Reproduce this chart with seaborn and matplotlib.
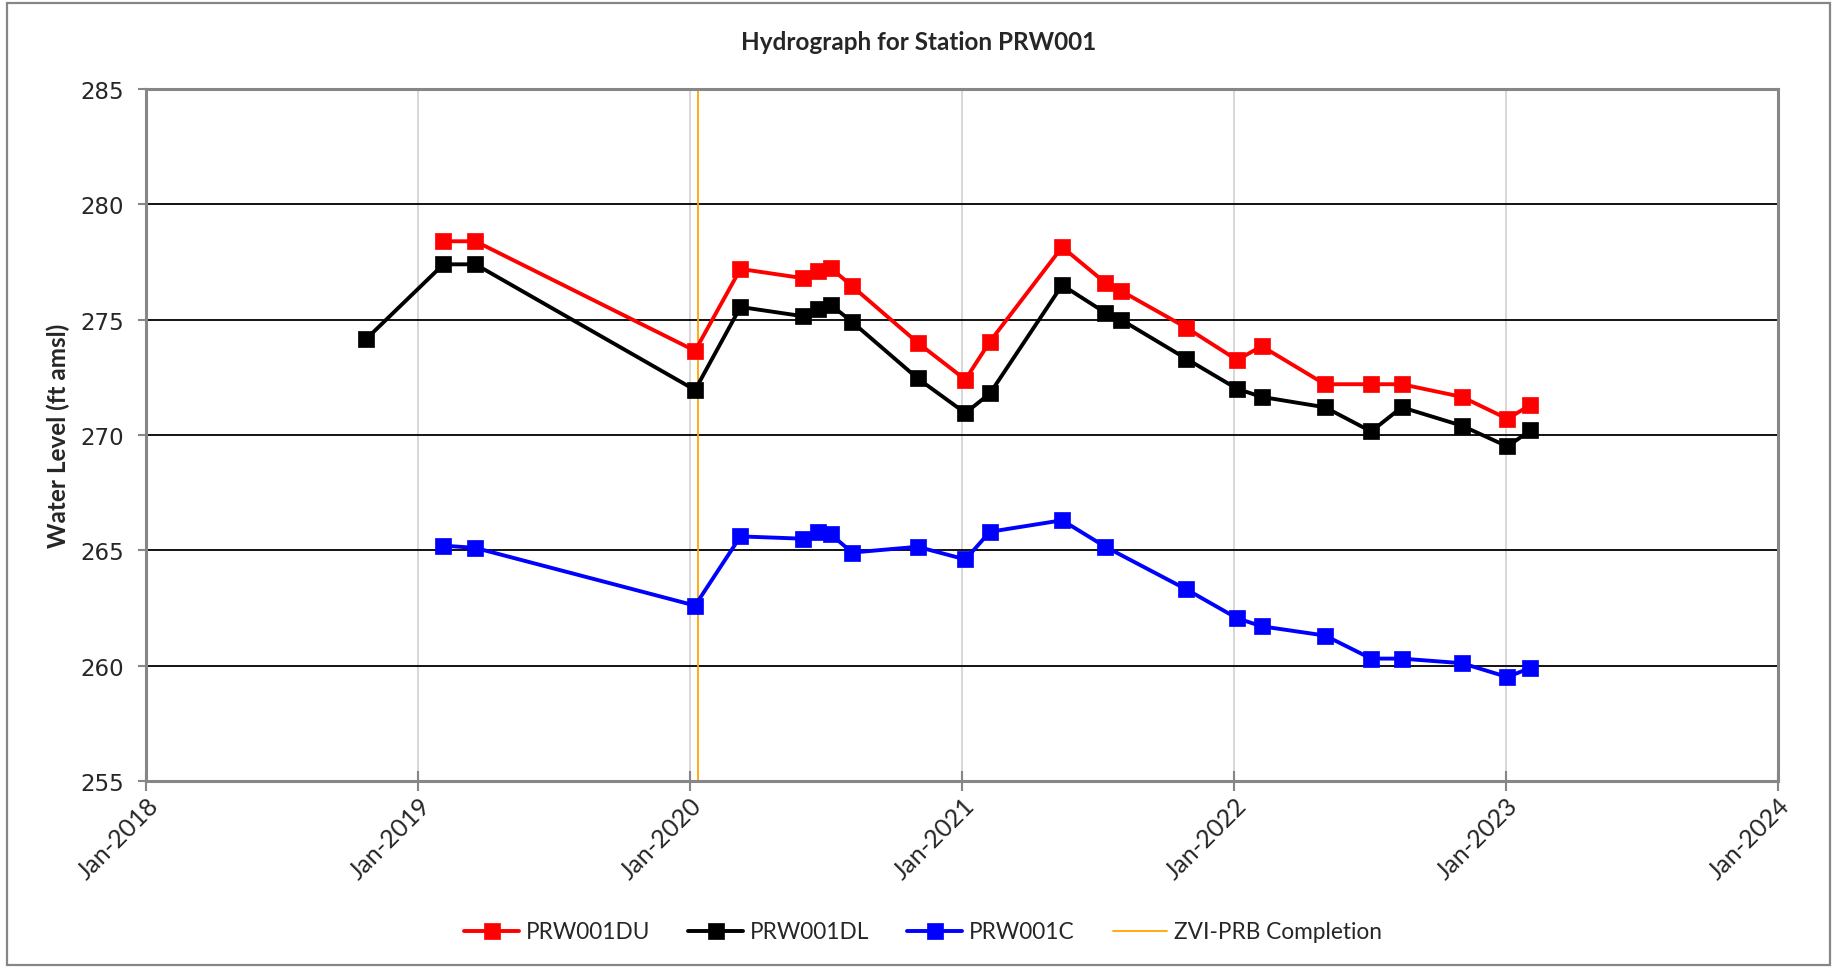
import pandas as pd
import matplotlib
matplotlib.use("Agg")
import matplotlib.pyplot as plt
import matplotlib.dates as mdates
from matplotlib.patches import Rectangle
from matplotlib.transforms import ScaledTranslation
import seaborn as sns


# ***********************************************************************************************

dates_dl = ["2018-10-23", "2019-02-04", "2019-03-19", "2020-01-08", "2020-03-09", "2020-06-01",
            "2020-06-21", "2020-07-08", "2020-08-06", "2020-11-02", "2021-01-05", "2021-02-07",
            "2021-05-15", "2021-07-12", "2021-08-02", "2021-10-29", "2022-01-05", "2022-02-07",
            "2022-05-03", "2022-07-04", "2022-08-14", "2022-11-03", "2023-01-03", "2023-02-03"]
niveau_dl = [274.15, 277.4, 277.4, 271.95, 275.55, 275.15, 275.45, 275.65, 274.9, 272.45, 270.95, 271.8,
             276.5, 275.3, 275.0, 273.3, 272.0, 271.65, 271.2, 270.15, 271.2, 270.4, 269.5, 270.2]

dates_du = dates_dl[1:]
niveau_du = [278.4, 278.4, 273.65, 277.2, 276.8, 277.1, 277.25, 276.45, 274.0, 272.4, 274.05,
             278.15, 276.6, 276.25, 274.65, 273.25, 273.85, 272.2, 272.2, 272.2, 271.65, 270.7, 271.3]

dates_c = ["2019-02-04", "2019-03-19", "2020-01-08", "2020-03-09", "2020-06-01", "2020-06-21",
           "2020-07-08", "2020-08-06", "2020-11-02", "2021-01-05", "2021-02-07", "2021-05-15",
           "2021-07-12", "2021-10-29", "2022-01-05", "2022-02-07", "2022-05-03", "2022-07-04",
           "2022-08-14", "2022-11-03", "2023-01-03", "2023-02-03"]
niveau_c = [265.2, 265.1, 262.6, 265.6, 265.5, 265.8, 265.7, 264.9, 265.15, 264.6, 265.8, 266.3,
            265.15, 263.3, 262.05, 261.7, 261.3, 260.3, 260.3, 260.1, 259.5, 259.9]

date_zvi = "2020-01-12"
annees = ["2018-01-01", "2019-01-01", "2020-01-01", "2021-01-01", "2022-01-01", "2023-01-01", "2024-01-01"]
graduations_y = [255, 260, 265, 270, 275, 280, 285]

series = [
    ("PRW001DU", dates_du, niveau_du, "#FF0000"),
    ("PRW001DL", dates_dl, niveau_dl, "#000000"),
    ("PRW001C", dates_c, niveau_c, "#0000FF"),
]

sns.set_style("white")
plt.rcParams['font.family'] = ['Lato', 'DejaVu Sans']

W, H = 1835, 970
fig = plt.figure(figsize=(W / 100, H / 100), dpi=100)
ax = fig.add_axes([146.3 / W, 1 - 781.8 / H, (1777.7 - 146.3) / W, (781.8 - 90.1) / H])

# Courbes
for nom, dates, niveaux, couleur in series:
    sns.lineplot(x=pd.to_datetime(dates), y=niveaux, ax=ax, color=couleur, linewidth=2.8,
                 marker='s', markersize=12, markeredgecolor=couleur, markeredgewidth=0.5,
                 label=nom, zorder=3)

ax.axvline(pd.Timestamp(date_zvi), color='#FFA500', linewidth=1.3, label='ZVI-PRB Completion', zorder=2)

if ax.get_legend() is not None:
    ax.get_legend().remove()

# Axes
ax.set_xlim(pd.Timestamp(annees[0]), pd.Timestamp(annees[-1]))
ax.set_ylim(255, 285)
ax.set_xticks(pd.to_datetime(annees))
ax.xaxis.set_major_formatter(mdates.DateFormatter('%b-%Y'))
ax.set_yticks(graduations_y)

ax.set_axisbelow(True)
ax.yaxis.grid(True, color='black', linewidth=1.3)
ax.xaxis.grid(True, color='#d4d4d4', linewidth=1.3)

for sp in ax.spines.values():
    sp.set_color('#868686')
    sp.set_linewidth(2.2)

ax.tick_params(axis='y', direction='out', length=6, width=1.5, color='#868686', pad=10,
               labelsize=16.5, left=True)
ax.tick_params(axis='x', direction='inout', length=14, width=1.5, color='#868686', pad=7.5,
               labelsize=18, bottom=True)
for lab in ax.get_yticklabels():
    lab.set_fontfamily('DejaVu Sans')
decalage = ScaledTranslation(6 / 72, 0, fig.dpi_scale_trans)
for lab in ax.get_xticklabels():
    lab.set_rotation(45)
    lab.set_ha('right')
    lab.set_va('center')
    lab.set_rotation_mode('anchor')
    lab.set_transform(lab.get_transform() + decalage)

ax.set_xlabel('')
ax.set_ylabel('Water Level (ft amsl)', fontsize=17.5, fontweight='bold')
ax.yaxis.set_label_coords(-0.047, 0.5)

fig.text(919 / W, 1 - 43 / H, 'Hydrograph for Station PRW001', ha='center', va='center',
         fontsize=17.5, fontweight='bold')

handles, labels = ax.get_legend_handles_labels()
fig.legend(handles, labels, loc='center', bbox_to_anchor=(923 / W, 1 - 933 / H), ncol=4,
           frameon=False, fontsize=16.3, handlelength=2.4, handletextpad=0.3, columnspacing=1.7,
           numpoints=1)

# Cadre extérieur
fig.patches.append(Rectangle((7 / W, 4 / H), (1830 - 7) / W, (966 - 4) / H, transform=fig.transFigure,
                             fill=False, edgecolor='#868686', linewidth=1.6))

fig.savefig("out.png", dpi=100)
plt.close(fig)
